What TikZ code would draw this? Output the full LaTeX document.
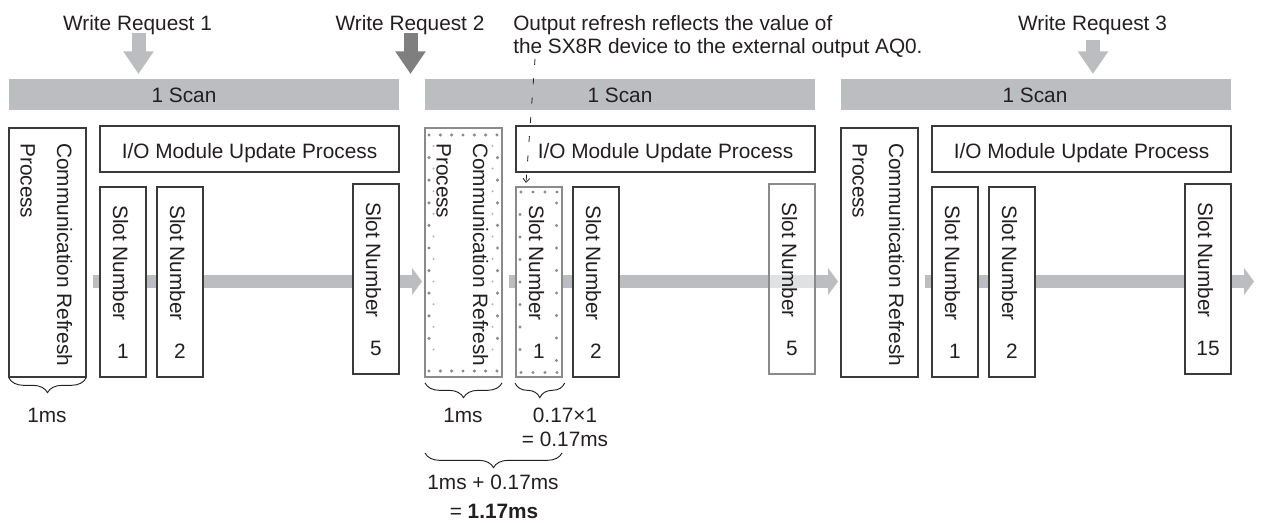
\documentclass[tikz,border=0pt]{standalone}
\usepackage{fontspec}
\setmainfont{Liberation Sans}
\usetikzlibrary{decorations.pathreplacing,arrows.meta}
\definecolor{barc}{HTML}{BCBDC0}
\definecolor{darkarr}{HTML}{7F7F7F}
\definecolor{boxc}{HTML}{3A3A3A}
\definecolor{dotc}{HTML}{8A8A8A}
\definecolor{faintc}{HTML}{B5B5B5}
\definecolor{txt}{HTML}{231F20}
\tikzset{
  box/.style={draw=boxc, line width=0.9pt, fill=white, inner sep=0pt, outer sep=0pt},
  dotbox/.style={draw=dotc, line width=0.9pt, fill=white, inner sep=0pt, outer sep=0pt},
  fadebox/.style={draw=dotc, line width=0.9pt, fill=white, fill opacity=0.55, inner sep=0pt, outer sep=0pt},
  scanbar/.style={fill=barc, draw=none, inner sep=0pt, outer sep=0pt},
  lbl/.style={inner sep=0pt, anchor=base},
  lblw/.style={inner sep=0pt, anchor=base west},
  vlbl/.style={inner sep=0pt, rotate=-90, anchor=base west},
  flow/.style={draw=barc, line width=9.75pt, -{Triangle[length=7.5pt, width=20pt]}},
  req/.style={line width=10.5pt, -{Triangle[length=17pt, width=21.75pt]}},
  brc/.style={decorate, decoration={brace, amplitude=11pt}, draw=txt, line width=0.7pt},
  note/.style={draw=txt, line width=0.6pt, dash pattern=on 4.5pt off 10pt, -{Straight Barb[length=3pt, width=5pt]}},
}
\newcommand\scangroup[7]{%
  \node[scanbar, minimum width=292.5pt, minimum height=23.25pt] (scan#2) at ({#1+204},94.5) {};
  \node[lbl] (scantxt#2) at (#7,103) {1 Scan};
  \coordinate (bs#2) at ({#1+93},281.5);
  \coordinate (be#2) at ({#1+422},281.5);
  \draw[flow] (bs#2) -- (be#2);
  \node[#3, minimum width=57.75pt, minimum height=186.75pt] (comm#2) at ({#1+47.5},252.5) {};
  \node[box, minimum width=224.25pt, minimum height=34.5pt] (io#2) at ({#1+249.5},149) {};
  \node[#4, minimum width=34.5pt, minimum height=142.5pt] (sa#2) at ({#1+123},282) {};
  \node[box, minimum width=34.5pt, minimum height=142.5pt] (sb#2) at ({#1+180},282) {};
  \node[#5, minimum width=34.5pt, minimum height=142.5pt] (sc#2) at ({#1+376},279) {};
}
\newcommand\grouptext[3]{%
  \node[vlbl] (ct#2) at ({#1+57},143) {Communication Refresh};
  \node[vlbl] (pt#2) at ({#1+20.5},143) {Process};
  \node[lbl] (iot#2) at ({#1+249.5},158.5) {I/O Module Update Process};
  \node[vlbl] (sat#2) at ({#1+113},205) {Slot Number};
  \node[lbl] (san#2) at ({#1+123},359) {1};
  \node[vlbl] (sbt#2) at ({#1+170},205) {Slot Number};
  \node[lbl] (sbn#2) at ({#1+180},359) {2};
  \node[vlbl] (sct#2) at ({#1+366},202) {Slot Number};
  \node[lbl] (scn#2) at ({#1+376},355.5) {#3};
}
\begin{document}
\begin{tikzpicture}[x=0.75pt, y=-0.75pt, font=\fontsize{15.6}{18}\selectfont, text=txt]
\useasboundingbox (0,0) rectangle (1261,523);

% write requests
\node[lbl] (wr1) at (137.5,31) {Write Request 1};
\node[lbl] (wr2) at (410,31) {Write Request 2};
\node[lbl] (wr3) at (1092.5,31) {Write Request 3};
\node[lblw] (out1) at (513,31) {Output refresh reflects the value of};
\node[lblw] (out2) at (513,54) {the SX8R device to the external output AQ0.};

\coordinate (r1a) at (138.5,33);  \coordinate (r1b) at (138.5,74);
\coordinate (r2a) at (410.5,33);  \coordinate (r2b) at (410.5,74);
\coordinate (r3a) at (1093,40);   \coordinate (r3b) at (1093,74);
\draw[req, draw=barc] (r1a) -- (r1b);
\draw[req, draw=darkarr] (r2a) -- (r2b);
\draw[req, draw=barc] (r3a) -- (r3b);

% groups
\scangroup{0}{1}{box}{box}{box}{5}{184}
\scangroup{416}{2}{dotbox}{dotbox}{fadebox}{5}{620}
\scangroup{832}{3}{box}{box}{box}{15}{1035}

% dots in the dotted boxes of scan 2
\foreach \k in {0,...,6} {
  \fill[dotc] ({429+11.33*\k},135) circle (1.3pt);
  \fill[dotc] ({429+11.33*\k},371) circle (1.3pt);
}
\foreach \k in {1,...,9} {
  \fill[dotc] (429,{135+22.6*\k}) circle (1.3pt);
  \fill[dotc] (497.5,{135+22.6*\k}) circle (1.3pt);
}
\foreach \k in {0,...,9} {
  \fill[faintc] (433.5,{146+22.6*\k}) circle (0.85pt);
  \fill[faintc] (492.5,{146+22.6*\k}) circle (0.85pt);
}
\foreach \k in {0,...,3} {
  \fill[dotc] ({521+12*\k},192) circle (1.3pt);
  \fill[dotc] ({521+12*\k},372.5) circle (1.3pt);
}
\foreach \k in {1,...,7} {
  \fill[dotc] (520,{192+22.5*\k}) circle (1.3pt);
}
\foreach \k in {0,...,7} {
  \fill[dotc] (556.5,{203+22.5*\k}) circle (1.3pt);
}

\grouptext{0}{1}{5}
\grouptext{416}{2}{5}
\grouptext{832}{3}{15}

% braces
\draw[brc] ([yshift=-0.75pt]comm1.south east) -- ([yshift=-0.75pt]comm1.south west);
\draw[brc] ([yshift=-4.5pt]comm2.south east) -- ([yshift=-4.5pt]comm2.south west);
\draw[brc] ([xshift=2pt,yshift=-4.5pt]sa2.south east) -- ([xshift=-0.75pt,yshift=-4.5pt]sa2.south west);
\draw[brc] ([yshift=-57pt]sa2.south east) -- ([yshift=-57pt]comm2.south west);

\node[lbl] (ms1) at (47,423) {1ms};
\node[lbl] (ms2) at (463,423) {1ms};
\node[lbl] (ms3) at (565,423) {0.17×1};
\node[lbl] (ms4) at (565,447) {= 0.17ms};
\node[lbl] (ms5) at (493,490) {1ms + 0.17ms};
\node[lbl] (ms6) at (494,519) {= \textbf{1.17ms}};

% note arrow
\coordinate (dtop) at (535,59);
\coordinate (dtip) at (526,183);
\draw[note] (dtop) -- (dtip);
\end{tikzpicture}
\end{document}
